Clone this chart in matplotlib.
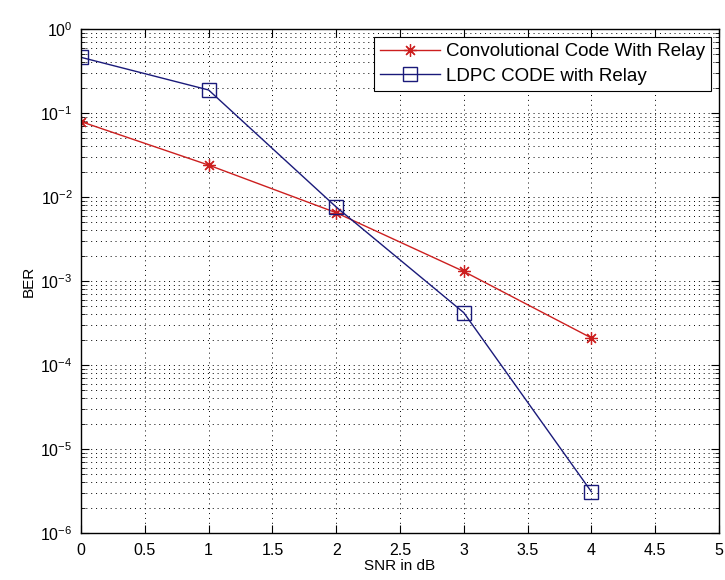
import matplotlib
matplotlib.use("Agg")
import matplotlib.pyplot as plt
from matplotlib.ticker import LogLocator, MultipleLocator, NullFormatter, FuncFormatter

plt.rcParams["font.family"] = ["Liberation Sans", "DejaVu Sans"]
plt.rcParams["mathtext.fontset"] = "custom"
plt.rcParams["mathtext.rm"] = "Liberation Sans"
plt.rcParams["mathtext.it"] = "Liberation Sans:italic"

snr_db = [0, 1, 2, 3, 4]
ber_conv = [0.079, 0.024, 0.0065, 0.0013, 0.00021]
ber_ldpc = [0.46, 0.188, 0.0076, 0.00042, 3.1e-6]

conv_label = "Convolutional Code With Relay"
ldpc_label = "LDPC CODE with Relay"

fig = plt.figure(figsize=(7.25, 5.8), dpi=100)
ax = fig.add_axes([0.1117, 0.081, 0.88, 0.869])

# MATLAB-style '*' marker (plus and cross together)
ax.semilogy(snr_db, ber_conv, color="#cc1f1f", marker=(8, 2, 0), markersize=9,
            markeredgewidth=0.9, linewidth=1.0, label=conv_label)
ax.semilogy(snr_db, ber_ldpc, color="#1a1a7a", marker="s", markersize=10,
            markerfacecolor="none", markeredgewidth=1.0, linewidth=1.0,
            label=ldpc_label)

ax.set_xlim(0, 5)
ax.set_ylim(1e-6, 1)
ax.xaxis.set_major_locator(MultipleLocator(0.5))
ax.xaxis.set_major_formatter(FuncFormatter(lambda v, p: f"{v:g}"))
ax.yaxis.set_major_locator(LogLocator(base=10, numticks=10))
ax.yaxis.set_minor_locator(LogLocator(base=10, subs=range(2, 10), numticks=20))
ax.yaxis.set_minor_formatter(NullFormatter())

ax.grid(True, which="major", axis="both", color="black", linestyle=(0, (1, 4)), linewidth=0.7)
ax.grid(True, which="minor", axis="y", color="black", linestyle=(0, (1, 4)), linewidth=0.7)

ax.tick_params(which="both", direction="in", top=True, right=True, labelsize=11.5)
ax.tick_params(axis="x", which="major", pad=7)
ax.tick_params(axis="y", which="major", pad=6)
ax.tick_params(which="major", length=6)
ax.tick_params(which="minor", length=3)
for s in ax.spines.values():
    s.set_linewidth(1.0)

ax.set_xlabel("SNR in dB", fontsize=11, labelpad=1)
ax.set_ylabel("BER", fontsize=11, labelpad=3)

leg = ax.legend(loc="upper right", fontsize=13.5, fancybox=False, framealpha=1,
                edgecolor="black", borderaxespad=0.4, handlelength=3.2,
                handletextpad=0.3, borderpad=0.35, labelspacing=0.4)
leg.get_frame().set_linewidth(0.8)

fig.savefig("out.png", dpi=100)
